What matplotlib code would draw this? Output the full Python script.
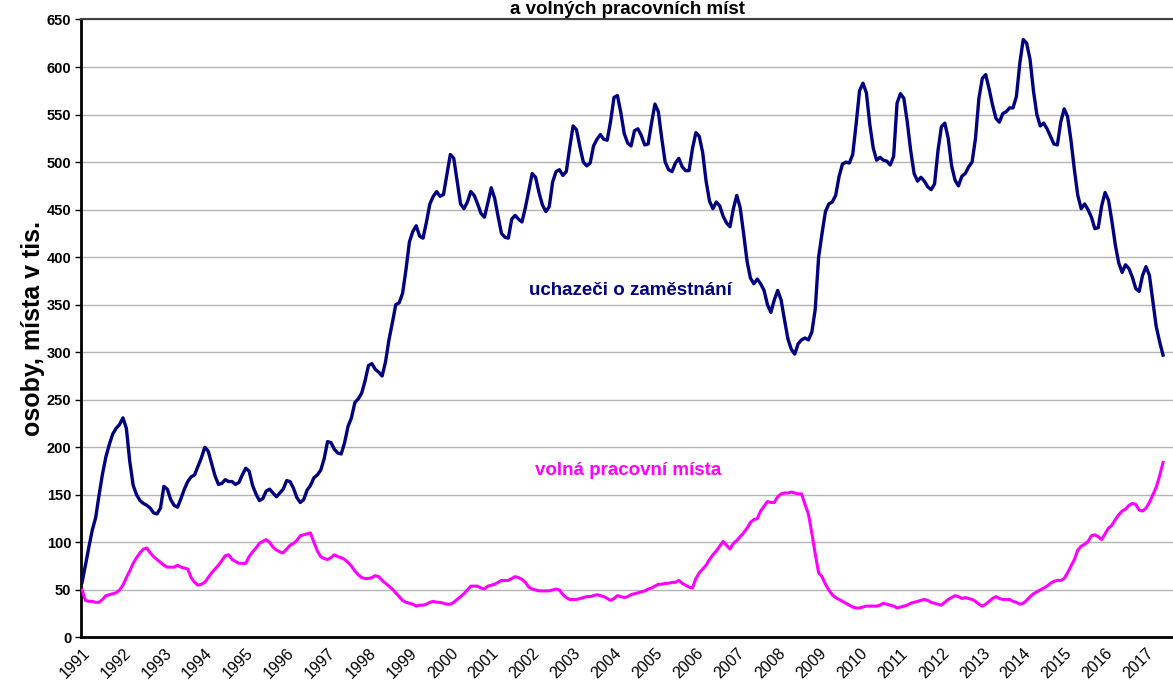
import numpy as np
import matplotlib
matplotlib.use("Agg")
import matplotlib.pyplot as plt

plt.rcParams['font.family'] = ['Liberation Sans', 'DejaVu Sans']

# měsíční hodnoty v tis., leden 1991 - červen 2017
uchazeci = [
    58, 76, 95, 113, 126, 150, 172, 190, 203, 214, 220, 224,      # 1991
    231, 220, 185, 160, 150, 144, 141, 139, 136, 131, 130, 136,   # 1992
    159, 156, 145, 139, 137, 146, 156, 164, 169, 171, 180, 189,   # 1993
    200, 196, 183, 170, 161, 162, 166, 164, 164, 161, 163, 171,   # 1994
    178, 175, 160, 151, 144, 146, 154, 156, 152, 148, 152, 156,   # 1995
    165, 164, 157, 147, 142, 145, 155, 160, 168, 171, 176, 188,   # 1996
    206, 205, 198, 194, 193, 205, 222, 231, 247, 251, 257, 270,   # 1997
    286, 288, 282, 279, 275, 290, 313, 331, 350, 352, 362, 387,   # 1998
    416, 427, 433, 422, 420, 437, 456, 464, 469, 464, 466, 487,   # 1999
    508, 504, 480, 456, 451, 458, 469, 465, 456, 446, 442, 457,   # 2000
    473, 462, 443, 425, 421, 420, 440, 444, 440, 437, 452, 470,   # 2001
    488, 484, 468, 455, 448, 453, 479, 490, 492, 486, 490, 515,   # 2002
    538, 534, 516, 500, 496, 499, 517, 524, 529, 524, 523, 543,   # 2003
    568, 570, 552, 530, 520, 517, 533, 535, 528, 518, 519, 541,   # 2004
    561, 553, 525, 500, 492, 490, 499, 504, 495, 491, 491, 514,   # 2005
    531, 527, 510, 480, 459, 451, 458, 454, 443, 436, 432, 451,   # 2006
    465, 452, 425, 396, 378, 372, 377, 372, 365, 350, 342, 355,   # 2007
    365, 355, 334, 314, 303, 298, 309, 313, 315, 313, 321, 345,   # 2008
    400, 425, 448, 456, 458, 465, 485, 498, 500, 499, 508, 540,   # 2009
    575, 583, 573, 540, 515, 502, 505, 502, 501, 497, 506, 562,   # 2010
    572, 567, 542, 512, 488, 480, 484, 480, 474, 471, 477, 512,   # 2011
    537, 541, 525, 496, 481, 475, 485, 488, 495, 500, 525, 567,   # 2012
    588, 592, 577, 560, 546, 542, 551, 553, 557, 557, 569, 604,   # 2013
    629, 625, 608, 575, 550, 538, 541, 535, 527, 519, 518, 542,   # 2014
    556, 548, 523, 492, 465, 451, 456, 450, 442, 430, 431, 454,   # 2015
    468, 460, 438, 413, 394, 384, 392, 388, 379, 367, 364, 381,   # 2016
    390, 381, 354, 327, 311, 297,                                 # 2017
]

volna_mista = [
    50, 39, 38, 38, 37, 37, 40, 44, 45, 46, 47, 50,               # 1991
    55, 63, 70, 78, 84, 89, 93, 94, 89, 85, 82, 79,               # 1992
    76, 74, 74, 74, 76, 74, 73, 72, 63, 58, 55, 56,               # 1993
    58, 63, 68, 72, 76, 81, 86, 87, 82, 80, 78, 78,               # 1994
    78, 85, 90, 94, 99, 101, 103, 100, 95, 92, 90, 89,            # 1995
    93, 97, 99, 102, 107, 108, 109, 110, 100, 91, 85, 83,         # 1996
    82, 84, 87, 85, 84, 82, 79, 75, 70, 66, 63, 62,               # 1997
    62, 63, 65, 64, 60, 57, 54, 51, 47, 43, 39, 37,               # 1998
    36, 35, 33, 34, 34, 35, 37, 38, 37, 37, 36, 35,               # 1999
    35, 37, 40, 43, 46, 50, 54, 54, 54, 52, 51, 54,               # 2000
    55, 56, 58, 60, 60, 60, 62, 64, 63, 61, 58, 53,               # 2001
    51, 50, 49, 49, 49, 49, 50, 51, 50, 45, 42, 40,               # 2002
    40, 40, 41, 42, 43, 43, 44, 45, 44, 43, 41, 39,               # 2003
    41, 44, 43, 42, 43, 45, 46, 47, 48, 49, 51, 52,               # 2004
    54, 56, 56, 57, 57, 58, 58, 60, 57, 55, 53, 52,               # 2005
    62, 68, 72, 76, 82, 87, 91, 96, 101, 97, 93, 99,              # 2006
    102, 106, 110, 115, 121, 124, 125, 133, 138, 143, 142, 142,   # 2007
    148, 151, 152, 152, 153, 152, 151, 151, 140, 130, 110, 88,    # 2008
    68, 64, 56, 50, 45, 42, 40, 38, 36, 34, 32, 31,               # 2009
    31, 32, 33, 33, 33, 33, 34, 36, 35, 34, 33, 31,               # 2010
    32, 33, 34, 36, 37, 38, 39, 40, 39, 37, 36, 35,               # 2011
    34, 37, 40, 42, 44, 43, 41, 42, 41, 40, 38, 35,               # 2012
    33, 35, 38, 41, 43, 41, 40, 40, 40, 38, 37, 35,               # 2013
    36, 39, 43, 46, 48, 50, 52, 54, 57, 59, 60, 60,               # 2014
    62, 68, 75, 82, 92, 96, 98, 101, 107, 108, 106, 103,          # 2015
    109, 115, 118, 124, 129, 133, 135, 139, 141, 140, 134, 133,   # 2016
    136, 142, 150, 158, 170, 184,                                 # 2017
]

roky = list(range(1991, 2018))

x = 1991 + np.arange(len(uchazeci)) / 12.0

fig = plt.figure(figsize=(11.73, 6.81), dpi=100)
ax = fig.add_axes([0.0691, 0.0639, 0.9309, 0.9075])

ax.plot(x, uchazeci, color='#000080', lw=2.4, solid_joinstyle='round', zorder=3)
ax.plot(x, volna_mista, color='#FF00FF', lw=2.2, solid_joinstyle='round', zorder=3)

ax.set_xlim(1990.976, 2017.66)
ax.set_ylim(0, 650)
ax.set_yticks(np.arange(0, 651, 50))
ax.set_xticks(roky)
ax.set_xticklabels([str(r) for r in roky], rotation=45, ha='right',
                   rotation_mode='anchor', fontsize=11.5)
for lab in ax.get_yticklabels():
    lab.set_fontweight('bold')
    lab.set_fontsize(10.5)
ax.tick_params(axis='y', length=4, width=1, pad=3)
ax.tick_params(axis='x', length=0, pad=6)

ax.yaxis.grid(True, color='#b4b4b4', lw=1)
ax.set_axisbelow(True)

ax.spines['left'].set_linewidth(2)
ax.spines['bottom'].set_linewidth(2)
ax.spines['top'].set_linewidth(1.5)
ax.spines['top'].set_color('#404040')
ax.spines['right'].set_visible(False)

ax.set_ylabel("osoby, místa v tis.", fontsize=18, fontweight='bold', labelpad=1)

ax.text(2004.4, 365, "uchazeči o zaměstnání", color='#000080', fontsize=13.5,
        fontweight='bold', ha='center', va='center')
ax.text(2004.35, 176, "volná pracovní místa", color='#FF00FF', fontsize=13.5,
        fontweight='bold', ha='center', va='center')

fig.text(0.535, 1 - 14 / 681, "a volných pracovních míst", fontsize=13.5, fontweight='bold',
         ha='center', va='baseline')

fig.savefig("out.png", dpi=100)
